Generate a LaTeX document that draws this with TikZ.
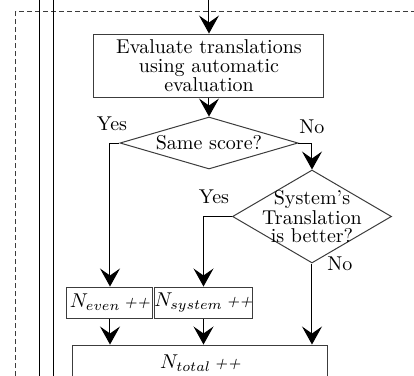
\documentclass[tikz,border=0pt]{standalone}
\usepackage{tikz}
\usetikzlibrary{arrows.meta,positioning,shapes.geometric,calc}
\definecolor{boxgray}{RGB}{60,60,60}
\newcommand{\incr}{\,{\footnotesize\textit{++}}}

\begin{document}
\begin{tikzpicture}[x=0.5pt,y=-0.5pt,>={Stealth[length=9pt,width=10pt,inset=3.5pt]},
    font=\fontsize{10}{9.5}\selectfont,
    proc/.style={rectangle,draw=boxgray,line width=0.5pt,inner sep=0pt,align=center},
    decide/.style={diamond,draw=boxgray,line width=0.5pt,inner sep=0pt},
    yn/.style={inner sep=0pt},
    flow/.style={->,line width=0.5pt}]
  \useasboundingbox (0,0) rectangle (414,376);
  % lane borders
  \draw[boxgray,line width=0.5pt,dash pattern=on 2.5pt off 1.5pt] (16,376) -- (16,11) -- (414,11);
  \draw[line width=0.5pt] (40,0) -- (40,376);
  \draw[line width=0.5pt] (54,0) -- (54,376);
  % steps and decisions
  \coordinate (in) at (209,0);
  \node[proc,minimum width=115pt,minimum height=31.5pt] (eval) at (209,65.5)
    {Evaluate translations\\using automatic\\evaluation};
  \node[decide,minimum width=89pt,minimum height=26pt,label={center:Same score?}] (same) at (209,143) {};
  \node[decide,minimum width=79.5pt,minimum height=46.5pt,
    label={[align=center,font=\fontsize{10}{8.8}\selectfont]center:System's\\Translation\\is better?}] (better) at (312,216.5) {};
  \node[proc,minimum width=43pt,minimum height=15.5pt] (neven) at (110,302.5) {$N_{even}$\incr};
  \node[proc,minimum width=48.5pt,minimum height=15.5pt] (nsys) at (203.5,302.5) {$N_{system}$\incr};
  \node[proc,minimum width=127.5pt,minimum height=18pt] (ntotal) at (200.5,363) {$N_{total}$\incr};
  % branch labels
  \node[yn] (yes1) at (112,124) {Yes};
  \node[yn] (no1) at (312,127) {No};
  \node[yn] (yes2) at (214,197) {Yes};
  \node[yn] (no2) at (340,264) {No};
  % connectors
  \draw[flow] (in) -- (eval.north);
  \draw[flow] (eval.south) -- (same.north);
  \draw[flow] (same.west) -| (neven.north);
  \draw[flow] (same.east) -| (better.north);
  \draw[flow] (better.west) -| (nsys.north);
  \draw[flow] (better.south) -- (better.south |- ntotal.north);
  \draw[flow] (neven.south) -- (neven.south |- ntotal.north);
  \draw[flow] (nsys.south) -- (nsys.south |- ntotal.north);
\end{tikzpicture}
\end{document}
